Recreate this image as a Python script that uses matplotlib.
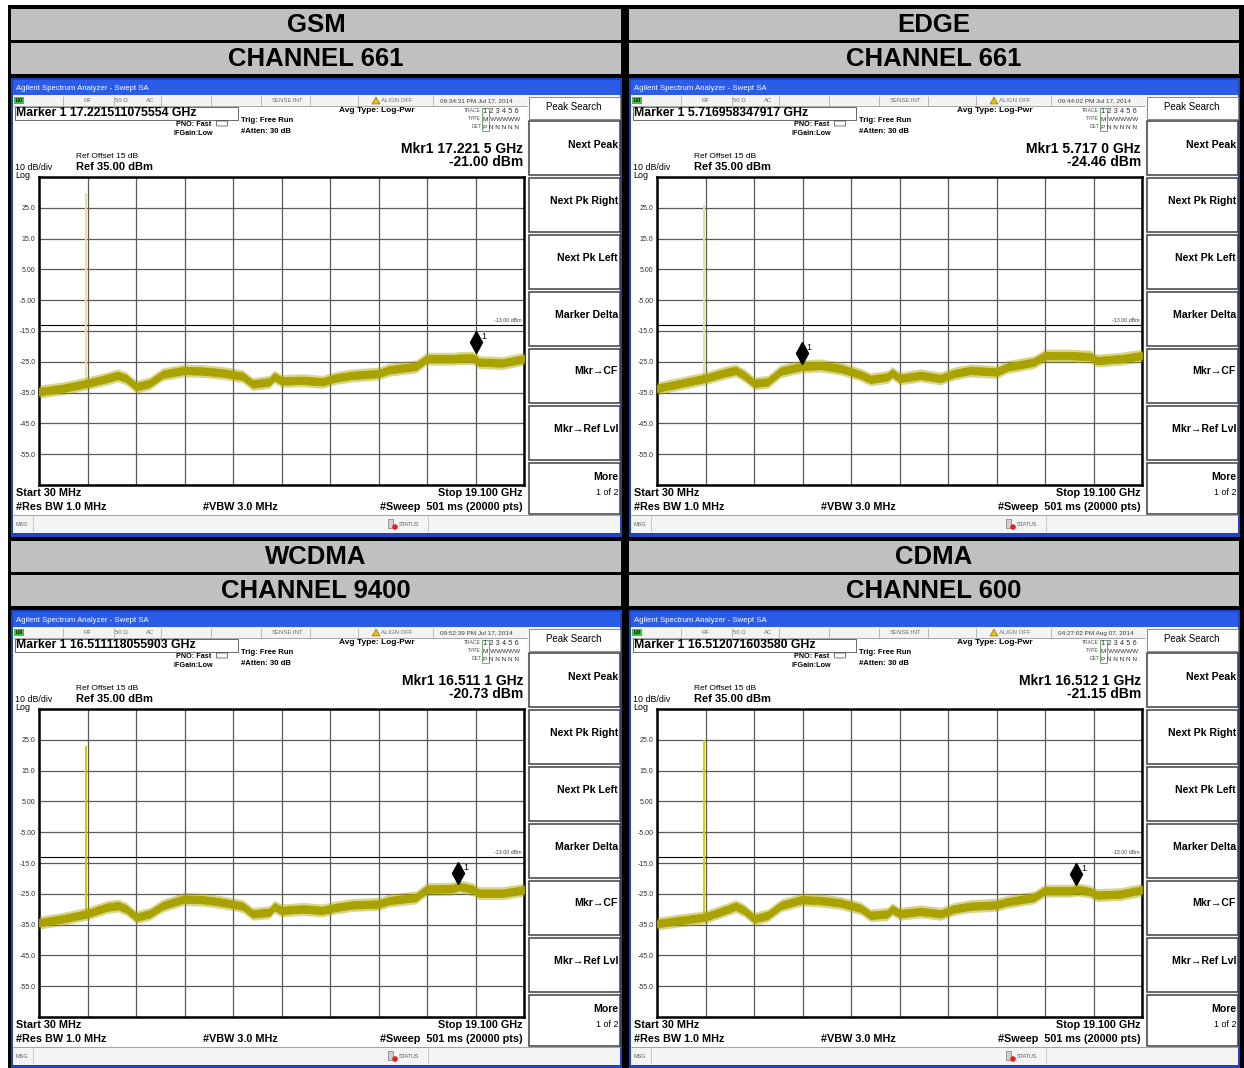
import matplotlib
matplotlib.use('Agg')
import matplotlib.pyplot as plt
import matplotlib.patches as mpatches
import matplotlib.transforms as mtransforms
import numpy as np

W, H = 1244, 1068
plt.rcParams['font.family'] = ['Liberation Sans', 'DejaVu Sans']

# ---------------- data ----------------
band_titles = ["GSM", "EDGE", "WCDMA", "CDMA"]
channel_titles = ["CHANNEL 661", "CHANNEL 661", "CHANNEL 9400", "CHANNEL 600"]

freq_ghz = [0.03, 0.97, 1.91, 2.67, 3.13, 3.46, 3.85, 4.38, 4.90, 5.72, 6.47,
            7.26, 8.04, 8.43, 9.09, 9.28, 9.57, 10.40, 11.18, 11.71, 12.36,
            13.38, 13.80, 14.85, 15.27, 16.29, 16.55, 17.07, 17.33, 18.25, 19.10]

gsm_dbm = [-34.7, -33.6, -32.0, -30.5, -29.4, -30.4, -33.1, -32.0, -29.0, -27.8, -28.0,
           -28.6, -29.7, -32.2, -31.5, -29.8, -31.2, -31.0, -31.5, -30.2, -29.4,
           -28.8, -27.6, -26.5, -24.0, -24.0, -23.8, -23.7, -25.1, -25.4, -24.0]
edge_dbm = [-33.6, -32.0, -30.4, -28.6, -27.8, -29.4, -32.0, -31.5, -28.0, -26.5, -26.2,
            -27.2, -29.2, -30.7, -29.9, -28.6, -30.4, -29.4, -30.4, -28.8, -27.8,
            -28.3, -26.7, -25.1, -23.0, -23.0, -23.1, -23.3, -24.6, -24.0, -23.0]
wcdma_dbm = [-34.4, -33.1, -31.5, -29.4, -28.8, -29.9, -32.6, -31.5, -28.8, -26.7, -26.9,
             -27.8, -29.0, -31.5, -31.0, -29.2, -30.4, -29.9, -30.4, -29.4, -28.6,
             -28.3, -27.2, -26.2, -23.5, -23.3, -22.6, -23.5, -24.8, -24.8, -23.7]
cdma_dbm = [-34.7, -33.6, -32.6, -30.4, -29.0, -30.4, -33.1, -32.0, -28.8, -26.9, -27.2,
            -28.0, -29.7, -32.0, -31.5, -30.0, -31.5, -30.7, -31.5, -29.9, -29.0,
            -28.6, -27.6, -26.2, -24.0, -24.0, -23.6, -24.3, -25.4, -25.1, -23.7]
traces = [gsm_dbm, edge_dbm, wcdma_dbm, cdma_dbm]

spike_freq_ghz = [1.88, 1.88, 1.88, 1.88]
spike_top_dbm = [29.8, 26.0, 23.0, 25.0]

marker_freq_ghz = [17.2215, 5.717, 16.5111, 16.5121]
marker_dbm = [-21.00, -24.46, -20.73, -21.15]
marker_full_text = ["Marker 1 17.221511075554 GHz", "Marker 1 5.716958347917 GHz",
                    "Marker 1 16.511118055903 GHz", "Marker 1 16.512071603580 GHz"]
mkr_freq_text = ["Mkr1 17.221 5 GHz", "Mkr1 5.717 0 GHz", "Mkr1 16.511 1 GHz", "Mkr1 16.512 1 GHz"]
mkr_amp_text = ["-21.00 dBm", "-24.46 dBm", "-20.73 dBm", "-21.15 dBm"]
timestamps = ["09:34:31 PM Jul 17, 2014", "09:44:02 PM Jul 17, 2014",
              "09:52:39 PM Jul 17, 2014", "04:27:02 PM Aug 07, 2014"]

start_ghz, stop_ghz = 0.03, 19.1
ref_dbm, bottom_dbm = 35.0, -65.0
display_line_dbm = -13.0
y_tick_values = [35, 25, 15, 5, -5, -15, -25, -35, -45, -55, -65]
y_tick_labels = ["", "25.0", "15.0", "5.00", "-5.00", "-15.0", "-25.0", "-35.0", "-45.0", "-55.0", ""]
softkeys = ["Next Peak", "Next Pk Right", "Next Pk Left", "Marker Delta",
            "Mkr\u2192CF", "Mkr\u2192Ref Lvl"]

# ---------------- styles ----------------
TRACE_COLOR = '#a9a200'
SPIKE_COLORS = ['#e6e29a', '#e6e29a', '#cfc800', '#d6d000']
HEADER_GRAY = '#c0c0c0'
FRAME_BLUE = '#1c44c4'
TITLE_BLUE = '#2b5ce8'
BAND_CORE = 1.2
BAND_FUZZ = 2.1

fig = plt.figure(figsize=(W / 100, H / 100), dpi=100)
fig.patch.set_facecolor('white')
ov = fig.add_axes([0, 0, 1, 1])
ov.set_xlim(0, W)
ov.set_ylim(H, 0)
ov.axis('off')
ov.set_zorder(0)


def rect(x0, y0, x1, y1, fc, ec='none', lw=0.0, z=1):
    ov.add_patch(mpatches.Rectangle((x0, y0), x1 - x0, y1 - y0, facecolor=fc,
                                    edgecolor=ec, linewidth=lw, zorder=z))


def line(x0, y0, x1, y1, color, lw=0.8, z=3):
    ov.plot([x0, x1], [y0, y1], color=color, lw=lw, zorder=z, solid_capstyle='butt')


def txt(x, y, s, size, weight='normal', ha='left', va='center', color='black', z=5):
    ov.text(x, y, s, fontsize=size, fontweight=weight, ha=ha, va=va, color=color, zorder=z)


# black background frame
rect(8, 5, W, H, 'black', z=0.5)

col_dx = [0, 618]
row_dy = [0, 532]


def draw_panel(idx, ox, oy):
    # header bars
    rect(11 + ox, 9 + oy, 621 + ox, 40 + oy, HEADER_GRAY)
    rect(11 + ox, 43 + oy, 621 + ox, 74 + oy, HEADER_GRAY)
    txt(316 + ox, 25 + oy, band_titles[idx], 18.5, 'bold', ha='center')
    txt(316 + ox, 59.5 + oy, channel_titles[idx], 18.5, 'bold', ha='center')

    # analyzer window
    rect(11 + ox, 78 + oy, 622 + ox, 537 + oy, FRAME_BLUE)
    rect(13 + ox, 80 + oy, 620 + ox, 95 + oy, TITLE_BLUE)
    txt(16 + ox, 88 + oy, "Agilent Spectrum Analyzer - Swept SA", 5.6, color='white')
    rect(13 + ox, 95 + oy, 620 + ox, 533 + oy, 'white')

    # status row
    rect(13 + ox, 95 + oy, 527 + ox, 106 + oy, '#f3f3f3')
    line(13 + ox, 106 + oy, 527 + ox, 106 + oy, '#9a9a9a', 0.6)
    for xd in [63, 114, 161, 211, 261, 310, 358, 433]:
        line(xd + ox, 96 + oy, xd + ox, 106 + oy, '#b0b0b0', 0.6)
    rect(14 + ox, 97 + oy, 24 + ox, 104 + oy, '#3cc43c')
    txt(19 + ox, 100.5 + oy, "LXI", 3.3, 'bold', ha='center')
    txt(88 + ox, 101 + oy, "RF", 4.3, color='#707070', ha='center')
    txt(121 + ox, 101 + oy, "50 \u03a9", 4.3, color='#707070', ha='center')
    txt(150 + ox, 101 + oy, "AC", 4.3, color='#707070', ha='center')
    txt(288 + ox, 101 + oy, "SENSE:INT", 4.3, color='#707070', ha='center')
    ov.add_patch(mpatches.Polygon([(372 + ox, 104 + oy), (376 + ox, 97 + oy), (380 + ox, 104 + oy)],
                                  closed=True, facecolor='#e8c000', edgecolor='#806000', lw=0.4, zorder=4))
    txt(381 + ox, 101 + oy, "ALIGN OFF", 4.3, color='#707070')
    txt(440 + ox, 101 + oy, timestamps[idx], 4.6, color='#404040')

    # marker readout box
    rect(15 + ox, 106.5 + oy, 238 + ox, 119.5 + oy, 'white', ec='#505050', lw=0.6, z=2)
    txt(16 + ox, 113.5 + oy, marker_full_text[idx], 8.8, 'bold')
    txt(176 + ox, 125 + oy, "PNO: Fast", 5.2, 'bold')
    ov.add_patch(mpatches.FancyBboxPatch((217 + ox, 121.5 + oy), 10, 4, boxstyle='round,pad=0.5',
                                         facecolor='white', edgecolor='#404040', lw=0.5, zorder=4))
    txt(173 + ox, 133.5 + oy, "IFGain:Low", 5.2, 'bold')
    txt(241 + ox, 121 + oy, "Trig: Free Run", 5.6, 'bold')
    txt(241 + ox, 131.5 + oy, "#Atten: 30 dB", 5.6, 'bold')
    txt(339 + ox, 111 + oy, "Avg Type: Log-Pwr", 6.0, 'bold')
    txt(481 + ox, 111 + oy, "TRACE", 3.6, color='#505050', ha='right')
    txt(481 + ox, 119 + oy, "TYPE", 3.6, color='#505050', ha='right')
    txt(481 + ox, 127 + oy, "DET", 3.6, color='#505050', ha='right')
    rect(482 + ox, 107.5 + oy, 489 + ox, 131 + oy, 'none', ec='#5aa05a', lw=0.6, z=4)
    txt(483 + ox, 111.5 + oy, "1 2 3 4 5 6", 5.4, color='#303030')
    txt(483 + ox, 119.5 + oy, "M WWWWW", 4.6, color='#303030')
    txt(483 + ox, 127.5 + oy, "P N N N N N", 4.6, color='#303030')

    txt(523 + ox, 149 + oy, mkr_freq_text[idx], 10, 'bold', ha='right')
    txt(523 + ox, 162.5 + oy, mkr_amp_text[idx], 10, 'bold', ha='right')
    txt(76 + ox, 156.5 + oy, "Ref Offset 15 dB", 6.0)
    txt(76 + ox, 167 + oy, "Ref 35.00 dBm", 8.0, 'bold')
    txt(15 + ox, 168 + oy, "10 dB/div", 6.4)
    txt(15 + ox, 175.5 + oy, "Log", 6.4)

    # bottom annotations
    txt(16 + ox, 493 + oy, "Start 30 MHz", 7.8, 'bold')
    txt(523 + ox, 493 + oy, "Stop 19.100 GHz", 7.8, 'bold', ha='right')
    txt(16 + ox, 506.5 + oy, "#Res BW 1.0 MHz", 7.8, 'bold')
    txt(240 + ox, 506.5 + oy, "#VBW 3.0 MHz", 7.8, 'bold', ha='center')
    txt(523 + ox, 506.5 + oy, "#Sweep  501 ms (20000 pts)", 7.8, 'bold', ha='right')

    # status bar
    rect(13 + ox, 515 + oy, 620 + ox, 533 + oy, '#f4f4f4')
    line(13 + ox, 515 + oy, 620 + ox, 515 + oy, '#a0a0a0', 0.7)
    line(33 + ox, 516 + oy, 33 + ox, 532 + oy, '#c0c0c0', 0.6)
    line(428 + ox, 516 + oy, 428 + ox, 532 + oy, '#c0c0c0', 0.6)
    txt(15 + ox, 524 + oy, "MSG", 4.0, color='#606060')
    rect(388 + ox, 519 + oy, 393 + ox, 528 + oy, '#d0d0d0', ec='#606060', lw=0.4, z=4)
    ov.add_patch(mpatches.Circle((395 + ox, 527 + oy), 2.8, facecolor='#e02020', edgecolor='none', zorder=5))
    txt(399 + ox, 524 + oy, "STATUS", 4.0, color='#606060')

    # softkeys
    rect(527 + ox, 95 + oy, 620 + ox, 514 + oy, '#f7f7f7')
    rect(528.5 + ox, 97 + oy, 619.5 + ox, 118.5 + oy, 'white', ec='#8a8a8a', lw=0.7, z=2)
    txt(574 + ox, 107.5 + oy, "Peak Search", 7.0, ha='center')
    tops = [121, 178, 235, 292, 349, 406]
    text_y = [145, 201, 258, 315, 371, 429]
    for k, label in enumerate(softkeys):
        rect(529 + ox, tops[k] + oy, 619.5 + ox, tops[k] + 54 + oy, 'white', ec='#404040', lw=1.1, z=2)
        txt(618 + ox, text_y[k] + oy, label, 7.6, 'bold', ha='right')
    rect(529 + ox, 463 + oy, 619.5 + ox, 514 + oy, 'white', ec='#404040', lw=1.1, z=2)
    txt(618 + ox, 477.5 + oy, "More", 7.6, 'bold', ha='right')
    txt(618 + ox, 492.5 + oy, "1 of 2", 6.4, ha='right')

    # spectrum grid axes
    x0, y0, x1, y1 = 39 + ox, 177 + oy, 524 + ox, 485 + oy
    ax = fig.add_axes([x0 / W, 1 - y1 / H, (x1 - x0) / W, (y1 - y0) / H])
    ax.set_zorder(2)
    ax.set_facecolor('white')
    ax.set_xlim(start_ghz, stop_ghz)
    ax.set_ylim(bottom_dbm, ref_dbm)
    ax.set_xticks(np.linspace(start_ghz, stop_ghz, 11))
    ax.set_xticklabels([])
    ax.set_yticks(y_tick_values)
    ax.set_yticklabels(y_tick_labels)
    ax.tick_params(axis='both', length=0, pad=2.5)
    ax.tick_params(axis='y', labelsize=5.0, labelcolor='#303030')
    ax.grid(True, color='#5a5a5a', lw=0.9)
    ax.set_axisbelow(True)
    for sp in ax.spines.values():
        sp.set_linewidth(1.8)
        sp.set_color('black')

    vals = np.array(traces[idx])
    fr = np.array(freq_ghz)
    ax.axhline(display_line_dbm, color='black', lw=0.8, zorder=2)
    ax.text(stop_ghz - 0.1, display_line_dbm + 0.6, "-13.00 dBm", fontsize=3.8,
            ha='right', va='bottom', color='#404040')
    base = float(np.interp(spike_freq_ghz[idx], fr, vals))
    ax.vlines(spike_freq_ghz[idx], base, spike_top_dbm[idx], color=SPIKE_COLORS[idx], lw=1.4, zorder=3)
    ax.fill_between(fr, vals - BAND_FUZZ, vals + BAND_FUZZ, color=TRACE_COLOR, alpha=0.45, lw=0,
                    zorder=4)
    ax.fill_between(fr, vals - BAND_CORE, vals + BAND_CORE, color=TRACE_COLOR, lw=0.6,
                    edgecolor=TRACE_COLOR, zorder=4)
    mf, mv = marker_freq_ghz[idx], marker_dbm[idx]
    ax.vlines(mf, float(np.interp(mf, fr, vals)), mv, color=TRACE_COLOR, lw=1.0, zorder=4)
    tr = mtransforms.offset_copy(ax.transData, fig=fig, x=0, y=7.5, units='dots')
    ax.plot([mf], [mv], marker='d', ms=11, color='black', transform=tr, zorder=6)
    ax.annotate('1', (mf, mv), xytext=(5, 13), textcoords='offset pixels', fontsize=6.5,
                ha='left', va='center', zorder=6)


for i in range(4):
    draw_panel(i, col_dx[i % 2], row_dy[i // 2])

fig.savefig('out.png', dpi=100, facecolor='white')
